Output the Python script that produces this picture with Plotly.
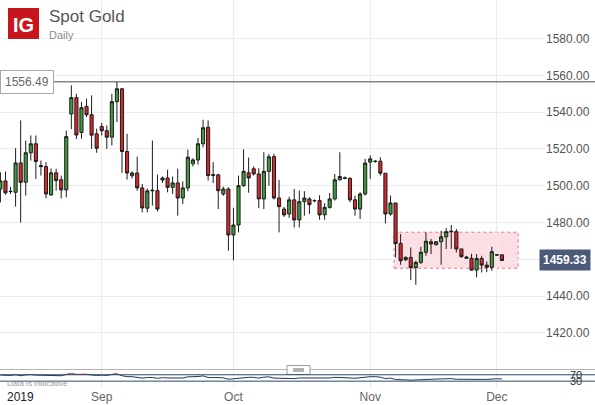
import pandas as pd
import plotly.graph_objects as go

# trading days (IG shows a short Sunday session, Saturdays are skipped)
dates = [d.strftime("%Y-%m-%d") for d in pd.date_range("2019-08-08", "2019-12-02") if d.weekday() != 5]

opens = [
    1498.2, 1502.6, 1496.8, 1496.4, 1512.4, 1501.9, 1517.9, 1522.8,
    1511.0, 1510.4, 1495.0, 1507.0, 1503.2, 1497.7,
    1539.0, 1547.9, 1529.0, 1543.1, 1538.6, 1528.2,
    1532.2, 1529.9, 1526.4, 1545.7, 1552.7, 1518.6,
    1505.4, 1506.9, 1498.8, 1487.8, 1497.2, 1497.3,
    1503.1, 1504.2, 1499.1, 1501.5, 1493.3, 1498.8,
    1511.9, 1514.0, 1522.8, 1531.8, 1505.5, 1505.9,
    1495.5, 1498.2, 1473.2, 1478.6, 1500.0, 1507.0,
    1509.2, 1506.4, 1492.8, 1507.8, 1515.8, 1493.3,
    1487.3, 1484.6, 1492.3, 1481.4, 1491.3, 1492.8,
    1491.8, 1491.9, 1484.2, 1488.2, 1492.8, 1503.2,
    1504.3, 1504.0, 1492.3, 1487.3, 1495.5, 1512.8,
    1513.3, 1513.3, 1506.8, 1484.6, 1490.6, 1468.6,
    1459.7, 1461.0, 1455.5, 1458.3, 1463.8, 1469.5,
    1467.9, 1469.5, 1472.2, 1475.0, 1475.0, 1465.6,
    1461.2, 1460.5, 1454.1, 1460.4, 1456.8, 1455.6,
    1462.3, 1462.4,
]
highs = [
    1507.3, 1507.7, 1499.4, 1520.4, 1535.5, 1524.6, 1527.3, 1527.3,
    1513.7, 1512.8, 1509.4, 1509.2, 1505.5, 1530.0,
    1554.6, 1550.0, 1545.5, 1547.3, 1549.1, 1531.0,
    1534.2, 1532.8, 1550.0, 1556.49, 1553.2, 1528.2,
    1507.8, 1515.8, 1501.0, 1498.5, 1524.6, 1506.0,
    1505.0, 1508.7, 1505.0, 1509.2, 1502.4, 1519.6,
    1515.0, 1526.0, 1535.9, 1535.5, 1512.8, 1506.5,
    1499.5, 1499.1, 1488.0, 1505.5, 1519.8, 1515.3,
    1510.5, 1509.5, 1518.2, 1517.3, 1517.3, 1503.2,
    1488.5, 1494.0, 1498.2, 1497.3, 1497.0, 1493.7,
    1492.5, 1494.8, 1490.5, 1496.0, 1506.4, 1518.2,
    1505.0, 1504.6, 1494.6, 1496.4, 1514.6, 1516.4,
    1514.0, 1515.5, 1506.8, 1494.6, 1490.6, 1473.7,
    1461.5, 1466.4, 1459.2, 1466.8, 1474.6, 1471.0,
    1469.8, 1475.5, 1477.0, 1478.6, 1476.5, 1465.6,
    1461.8, 1463.0, 1462.8, 1461.9, 1458.8, 1466.8,
    1462.6, 1462.6,
]
lows = [
    1490.9, 1495.1, 1495.5, 1488.6, 1480.0, 1494.6, 1513.7, 1503.7,
    1505.5, 1493.1, 1494.5, 1497.3, 1493.1, 1493.7,
    1530.8, 1525.4, 1525.5, 1537.3, 1520.0, 1517.9,
    1527.3, 1520.0, 1521.9, 1534.6, 1507.0, 1503.3,
    1504.0, 1497.3, 1485.5, 1485.5, 1489.2, 1486.0,
    1501.5, 1496.4, 1495.5, 1483.7, 1490.1, 1497.0,
    1510.5, 1511.5, 1520.9, 1502.8, 1501.5, 1487.3,
    1494.5, 1464.6, 1459.4, 1474.6, 1499.4, 1496.2,
    1505.5, 1487.8, 1487.3, 1500.0, 1492.5, 1474.6,
    1483.0, 1482.5, 1477.3, 1477.3, 1483.7, 1484.6,
    1491.0, 1481.5, 1481.5, 1487.5, 1491.9, 1502.8,
    1503.5, 1491.0, 1483.7, 1481.9, 1494.6, 1503.7,
    1512.5, 1505.5, 1479.5, 1483.7, 1461.0, 1457.0,
    1459.0, 1448.7, 1446.1, 1457.4, 1461.9, 1462.8,
    1467.5, 1457.0, 1465.6, 1465.6, 1463.7, 1460.8,
    1460.2, 1453.8, 1450.1, 1452.8, 1453.0, 1453.7,
    1462.0, 1459.0,
]
closes = [
    1502.6, 1496.1, 1496.9, 1512.4, 1501.8, 1517.9, 1522.8, 1513.1,
    1510.4, 1495.5, 1507.0, 1502.8, 1497.7, 1526.7,
    1547.9, 1527.6, 1542.4, 1538.6, 1527.5, 1520.4,
    1529.9, 1526.4, 1545.7, 1552.7, 1518.6, 1506.9,
    1506.9, 1498.8, 1487.9, 1497.2, 1497.5, 1487.3,
    1504.2, 1499.1, 1501.5, 1493.3, 1498.8, 1515.5,
    1514.0, 1522.8, 1531.5, 1505.5, 1506.0, 1497.3,
    1498.2, 1473.2, 1478.6, 1500.0, 1507.8, 1504.2,
    1506.4, 1492.8, 1507.8, 1515.7, 1493.3, 1488.6,
    1484.1, 1492.3, 1481.4, 1491.3, 1493.3, 1489.7,
    1491.9, 1484.1, 1488.2, 1492.8, 1503.2, 1505.0,
    1504.0, 1492.3, 1487.3, 1495.5, 1512.3, 1514.6,
    1513.2, 1506.8, 1484.6, 1490.6, 1468.6, 1459.2,
    1461.0, 1455.5, 1458.3, 1463.8, 1469.8, 1468.3,
    1469.5, 1472.2, 1475.0, 1475.2, 1465.6, 1461.4,
    1460.6, 1454.1, 1460.4, 1456.8, 1455.6, 1464.1,
    1462.4, 1459.33,
]
rsi = [
    68, 66, 66, 70, 64, 69, 71, 68, 67, 64, 67, 66, 64, 72,
    77, 72, 74, 73, 69, 66,
    68, 66, 72, 76, 64, 58,
    58, 55, 49, 53, 53, 48,
    52, 50, 51, 48, 50, 57,
    56, 59, 63, 53, 53, 50,
    51, 42, 45, 52, 55, 54,
    54, 49, 55, 57, 49, 48,
    47, 50, 46, 50, 50, 49,
    50, 47, 49, 50, 54, 54,
    54, 50, 48, 51, 57, 58,
    58, 55, 46, 49, 40, 37,
    38, 36, 38, 41, 43, 43,
    43, 44, 46, 46, 42, 41,
    41, 39, 42, 41, 41, 45,
    45, 44,
]

price_ticks = [1420, 1440, 1460, 1480, 1500, 1520, 1540, 1560, 1580]
month_ticks = ["2019-09-01", "2019-10-01", "2019-11-01", "2019-12-01"]
month_labels = ["Sep", "Oct", "Nov", "Dec"]
year_label = "2019"
resistance = 1556.49
last_price = closes[-1]
zone_first = "2019-11-07"
zone_low, zone_high = 1455.1, 1474.7
rsi_levels = [70, 30]

W, H = 595, 405
ML, MR, MT, MB = 0, 50, 0, 17
PW, PH = W - ML - MR, H - MT - MB


def fx(px):
    return (px - ML) / PW


def fy(py):
    return 1 - (py - MT) / PH


FONT = "Liberation Sans, Arial, sans-serif"
GRID = "#ececec"

fig = go.Figure()

fig.add_trace(
    go.Candlestick(
        x=dates, open=opens, high=highs, low=lows, close=closes,
        increasing=dict(line=dict(color="#1c1c1c", width=1), fillcolor="#3e9b3e"),
        decreasing=dict(line=dict(color="#1c1c1c", width=1), fillcolor="#d4282b"),
        whiskerwidth=0,
        showlegend=False,
        hoverinfo="skip",
        xaxis="x", yaxis="y",
    )
)

fig.add_trace(
    go.Scatter(
        x=dates, y=rsi, mode="lines",
        line=dict(color="#1f3656", width=1),
        showlegend=False, hoverinfo="skip",
        xaxis="x2", yaxis="y2",
    )
)
fig.add_trace(
    go.Scatter(
        x=dates, y=[v if v >= 70 else None for v in rsi], mode="lines",
        line=dict(color="#e0454a", width=1),
        showlegend=False, hoverinfo="skip",
        xaxis="x2", yaxis="y2",
    )
)

n = len(dates)
zone_x0 = dates.index(zone_first) - 0.3
zone_x1 = n - 1 + 3.2

shapes = [
    # support/resistance zone
    dict(type="rect", xref="x", yref="y", x0=zone_x0, x1=zone_x1, y0=zone_low, y1=zone_high,
         fillcolor="rgba(242,150,165,0.3)", line=dict(color="#e07a8c", width=1, dash="dot"), layer="below"),
    # resistance level
    dict(type="line", xref="paper", yref="y", x0=0, x1=fx(W), y0=resistance, y1=resistance,
         line=dict(color="#4a4a4a", width=1)),
    # panel separator
    dict(type="line", xref="paper", yref="paper", x0=0, x1=fx(W), y0=fy(369.5), y1=fy(369.5),
         line=dict(color="#b4b4b4", width=1)),
    # drag handle
    dict(type="rect", xref="paper", yref="paper", x0=fx(287), x1=fx(310), y0=fy(374.5), y1=fy(365.5),
         fillcolor="white", line=dict(color="#9a9a9a", width=1)),
    dict(type="line", xref="paper", yref="paper", x0=fx(293), x1=fx(304), y0=fy(369), y1=fy(369),
         line=dict(color="#666", width=1)),
    dict(type="line", xref="paper", yref="paper", x0=fx(293), x1=fx(304), y0=fy(371), y1=fy(371),
         line=dict(color="#666", width=1)),
    # logo
    dict(type="rect", xref="paper", yref="paper", x0=fx(8), x1=fx(39), y0=fy(39), y1=fy(8),
         fillcolor="#c8151d", line=dict(width=0)),
]
for lvl in rsi_levels:
    shapes.append(
        dict(type="line", xref="paper", yref="y2", x0=0, x1=fx(W), y0=lvl, y1=lvl,
             line=dict(color="#2b4a66", width=1))
    )

annotations = [
    dict(text="<b>IG</b>", x=fx(23.5), y=fy(24.5), xref="paper", yref="paper", showarrow=False,
         font=dict(family=FONT, size=20, color="white"), xanchor="center", yanchor="middle"),
    dict(text="Spot Gold", x=fx(47), y=fy(17), xref="paper", yref="paper", showarrow=False,
         font=dict(family=FONT, size=17, color="#555"), xanchor="left", yanchor="middle"),
    dict(text="Daily", x=fx(47), y=fy(34.5), xref="paper", yref="paper", showarrow=False,
         font=dict(family=FONT, size=11, color="#8a8a8a"), xanchor="left", yanchor="middle"),
    dict(text=f"{resistance:.2f}", x=0, y=resistance, xref="paper", yref="y", showarrow=False,
         font=dict(family=FONT, size=12, color="#666"), xanchor="left", yanchor="middle",
         bgcolor="white", bordercolor="#a8a8a8", borderwidth=1, borderpad=4),
    dict(text=f"<b>{last_price:.2f}</b>", x=fx(539), y=last_price, xref="paper", yref="y",
         showarrow=False, font=dict(family=FONT, size=12, color="white"),
         xanchor="left", yanchor="middle", bgcolor="#4b5a78", borderpad=3),
    dict(text="Data is indicative", x=fx(5), y=fy(383), xref="paper", yref="paper", showarrow=False,
         font=dict(family=FONT, size=8, color="#9a9a9a"), xanchor="left", yanchor="middle"),
    dict(text=year_label, x=fx(5), y=fy(397), xref="paper", yref="paper", showarrow=False,
         font=dict(family=FONT, size=12, color="#222"), xanchor="left", yanchor="middle"),
]
for lvl in rsi_levels:
    annotations.append(
        dict(text=str(lvl), x=fx(584), y=lvl, xref="paper", yref="y2", showarrow=False,
             font=dict(family=FONT, size=11, color="#333"), xanchor="right", yanchor="middle")
    )

fig.update_layout(
    width=W, height=H,
    margin=dict(l=ML, r=MR, t=MT, b=MB),
    paper_bgcolor="white", plot_bgcolor="white",
    font=dict(family=FONT, size=12, color="#555"),
    boxgap=0.12,
    xaxis=dict(
        type="category", range=[-0.08, 107.5], anchor="y",
        tickvals=month_ticks, showticklabels=False,
        showgrid=True, gridcolor=GRID, zeroline=False, showline=False,
        rangeslider=dict(visible=False),
    ),
    xaxis2=dict(
        type="category", matches="x", anchor="y2",
        tickvals=month_ticks, ticktext=month_labels,
        tickfont=dict(size=12, color="#666"),
        showgrid=True, gridcolor=GRID, zeroline=False, showline=False,
    ),
    yaxis=dict(
        domain=[fy(369), 1], range=[1400.3, 1601], side="right", anchor="x",
        tickvals=price_ticks, tickformat=".2f",
        tickfont=dict(size=12, color="#555"),
        showgrid=True, gridcolor=GRID, zeroline=False, showline=False,
    ),
    yaxis2=dict(
        domain=[0, fy(370)], range=[-13, 100], side="right", anchor="x2",
        showticklabels=False, showgrid=False, zeroline=False,
    ),
    shapes=shapes,
    annotations=annotations,
)

fig.write_html(
    "out.html",
    config={"displayModeBar": False},
    post_script="document.body.style.margin='0';",
)
